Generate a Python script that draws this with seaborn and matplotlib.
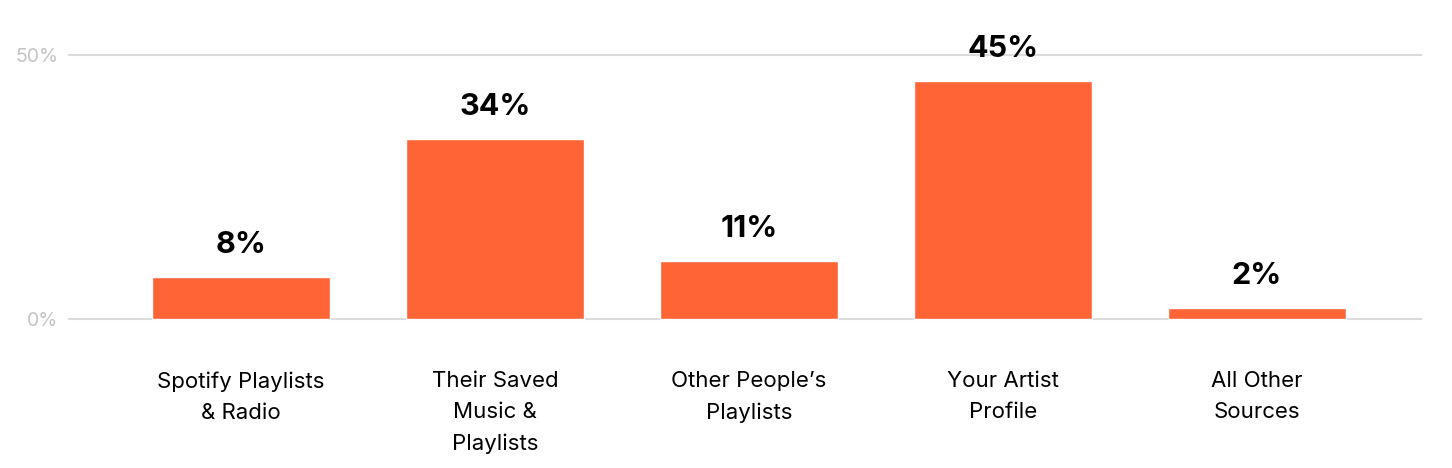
import matplotlib
matplotlib.use("Agg")
import matplotlib.pyplot as plt
import seaborn as sns
import pandas as pd

# data
sources = ["Spotify Playlists\n& Radio", "Their Saved\nMusic &\nPlaylists",
           "Other People\u2019s\nPlaylists", "Your Artist\nProfile", "All Other\nSources"]
shares = [8, 34, 11, 45, 2]
y_ticks = [0, 50]
y_tick_labels = ["0%", "50%"]

bar_color = "#ff6437"
grid_color = "#dcdcdc"

sns.set_theme(style="white")
plt.rcParams["font.family"] = ["Inter", "DejaVu Sans"]

df = pd.DataFrame({"source": sources, "share": shares})

fig = plt.figure(figsize=(14.52, 4.68), dpi=100)
ax = fig.add_axes([0.0468, 0.2958, 0.9325, 0.6431])

for t in y_ticks:
    ax.axhline(t, color=grid_color, lw=1.5, zorder=0)

sns.barplot(data=df, x="source", y="share", color=bar_color, saturation=1,
            width=0.7, ax=ax, zorder=2)

for i, v in enumerate(shares):
    ax.annotate(f"{v}%", (i, v), xytext=(0, 13), textcoords="offset points",
                ha="center", va="bottom", fontsize=22, fontweight="bold",
                color="black", annotation_clip=False)

ax.set_xlim(-0.681, 4.65)
ax.set_ylim(-2, 55)
ax.set_yticks(y_ticks)
ax.set_yticklabels(y_tick_labels, color="#c4c4c4", fontsize=14)
ax.tick_params(axis="y", length=0, pad=7)
ax.tick_params(axis="x", length=0, pad=30)
for lab in ax.get_xticklabels():
    lab.set_fontsize(16)
    lab.set_color("black")
    lab.set_linespacing(1.68)
    lab.set_va("top")
ax.set_xlabel("")
ax.set_ylabel("")
sns.despine(ax=ax, left=True, bottom=True)

fig.savefig("out.png", dpi=100, facecolor="white")
